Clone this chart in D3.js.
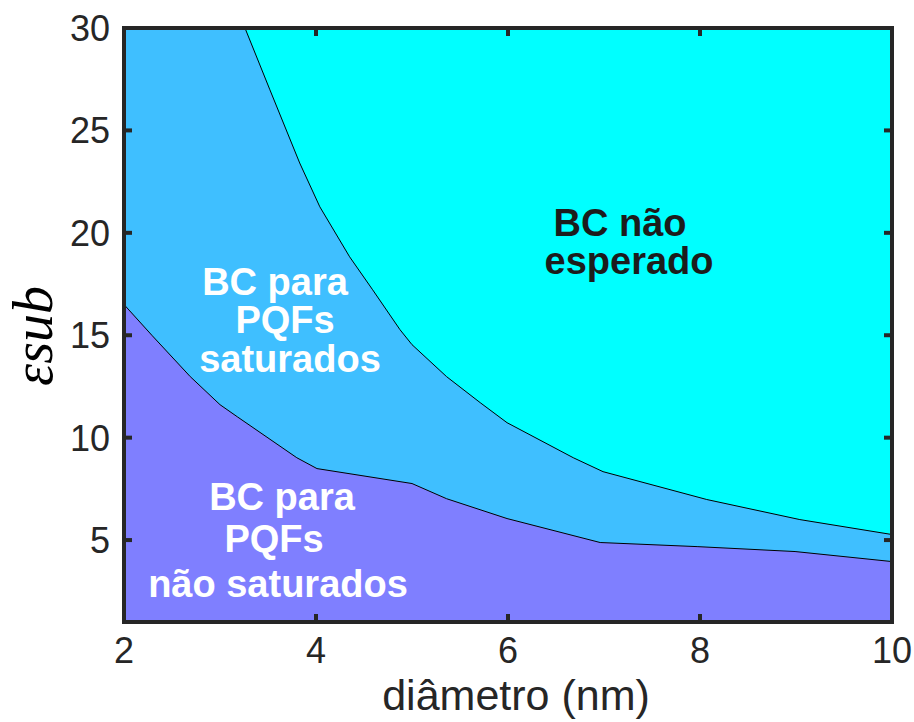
<!DOCTYPE html>
<html>
<head>
<meta charset="utf-8">
<script src="https://cdn.jsdelivr.net/npm/d3@7"></script>
<style>
  html, body { margin: 0; padding: 0; background: #fff; }
  svg { display: block; }
</style>
</head>
<body>
<svg id="chart" width="914" height="722"></svg>
<script>
// ---- Data ----
// Boundary between "BC não esperado" (above) and "BC para PQFs saturados" (below)
const upperX = [2.0, 3.26, 3.52, 3.83, 4.04, 4.35, 4.59, 4.875, 5.0, 5.36, 5.71, 5.99, 6.68, 6.99, 8.07, 9.04, 10.0];
const upperY = [30,  30,   26.98, 23.41, 21.27, 18.83, 17.22, 15.27, 14.54, 12.98, 11.71, 10.73, 9.02, 8.34, 6.98, 6.0, 5.27];
// Boundary between "saturados" (above) and "não saturados" (below)
const lowerX = [2.0, 2.29, 2.69, 3.0, 3.18, 3.8, 4.01, 5.0, 5.36, 5.99, 6.96, 7.97, 8.99, 10.0];
const lowerY = [16.5, 15.0, 12.98, 11.61, 11.02, 9.02, 8.49, 7.76, 7.02, 6.05, 4.88, 4.68, 4.44, 3.95];

const xTicks = [2, 4, 6, 8, 10];
const yTicks = [5, 10, 15, 20, 25, 30];
const xDomain = [2, 10];
const yDomain = [1, 30];

const regionColors = ["#00ffff", "#3fbfff", "#7f7fff"]; // não esperado, saturados, não saturados

// ---- Layout ----
const svg = d3.select("#chart");
const pL = 124, pR = 892, pT = 28, pB = 622;
const axisColor = "#262626";

const x = d3.scaleLinear().domain(xDomain).range([pL, pR]);
const y = d3.scaleLinear().domain(yDomain).range([pB, pT]);

const upper = upperX.map((d, i) => [d, upperY[i]]);
const lower = lowerX.map((d, i) => [d, lowerY[i]]);

svg.append("defs").append("clipPath").attr("id", "plotclip")
  .append("rect").attr("x", pL).attr("y", pT).attr("width", pR - pL).attr("height", pB - pT);

const g = svg.append("g").attr("clip-path", "url(#plotclip)");

g.append("rect").attr("x", pL).attr("y", pT).attr("width", pR - pL).attr("height", pB - pT)
  .attr("fill", regionColors[0]);

const area = d3.area().x(d => x(d[0])).y0(y(yDomain[0])).y1(d => y(d[1]));
const line = d3.line().x(d => x(d[0])).y(d => y(d[1]));

g.append("path").datum(upper).attr("d", area).attr("fill", regionColors[1]);
g.append("path").datum(lower).attr("d", area).attr("fill", regionColors[2]);

g.append("path").datum(upper.slice(1)).attr("d", line).attr("fill", "none").attr("stroke", "#000").attr("stroke-width", 1);
g.append("path").datum(lower).attr("d", line).attr("fill", "none").attr("stroke", "#000").attr("stroke-width", 1);

// ---- Axes (box with inward ticks) ----
const tickLen = 8;
const axG = svg.append("g");
axG.append("rect").attr("x", pL).attr("y", pT).attr("width", pR - pL).attr("height", pB - pT)
  .attr("fill", "none").attr("stroke", axisColor).attr("stroke-width", 4);

xTicks.forEach(t => {
  axG.append("line").attr("x1", x(t)).attr("x2", x(t)).attr("y1", pB).attr("y2", pB - tickLen)
    .attr("stroke", axisColor).attr("stroke-width", 4);
  axG.append("line").attr("x1", x(t)).attr("x2", x(t)).attr("y1", pT).attr("y2", pT + tickLen)
    .attr("stroke", axisColor).attr("stroke-width", 4);
  axG.append("text").attr("x", x(t)).attr("y", 663).attr("text-anchor", "middle")
    .attr("font-family", "Liberation Sans, Arial, sans-serif").attr("font-size", 36)
    .attr("fill", axisColor).text(t);
});
yTicks.forEach(t => {
  axG.append("line").attr("x1", pL).attr("x2", pL + tickLen).attr("y1", y(t)).attr("y2", y(t))
    .attr("stroke", axisColor).attr("stroke-width", 4);
  axG.append("line").attr("x1", pR).attr("x2", pR - tickLen).attr("y1", y(t)).attr("y2", y(t))
    .attr("stroke", axisColor).attr("stroke-width", 4);
  axG.append("text").attr("x", 110).attr("y", y(t)).attr("dy", "0.36em").attr("text-anchor", "end")
    .attr("font-family", "Liberation Sans, Arial, sans-serif").attr("font-size", 36)
    .attr("fill", axisColor).text(t);
});

svg.append("text").attr("x", 516).attr("y", 710).attr("text-anchor", "middle")
  .attr("font-family", "Liberation Sans, Arial, sans-serif").attr("font-size", 43)
  .attr("fill", axisColor).text("diâmetro (nm)");

svg.append("text").attr("transform", "translate(52,336) rotate(-90)").attr("text-anchor", "middle")
  .attr("font-family", "Liberation Serif, Times New Roman, serif").attr("font-style", "italic")
  .attr("font-size", 56).attr("fill", "#000").text("εsub");

// ---- Region labels ----
const labelFont = "Liberation Sans, Arial, Helvetica, sans-serif";
function label(lines, cx, cys, color) {
  lines.forEach((s, i) => {
    svg.append("text").attr("x", cx[i]).attr("y", cys[i]).attr("text-anchor", "middle")
      .attr("font-family", labelFont).attr("font-weight", "bold").attr("font-size", 38)
      .attr("fill", color).text(s);
  });
}
label(["BC não", "esperado"], [620, 629], [236, 274], "#1c1c1c");
label(["BC para", "PQFs", "saturados"], [275, 285, 290], [295, 333, 372], "#ffffff");
label(["BC para", "PQFs", "não saturados"], [282, 274, 278], [510, 552, 597], "#ffffff");
</script>
</body>
</html>
